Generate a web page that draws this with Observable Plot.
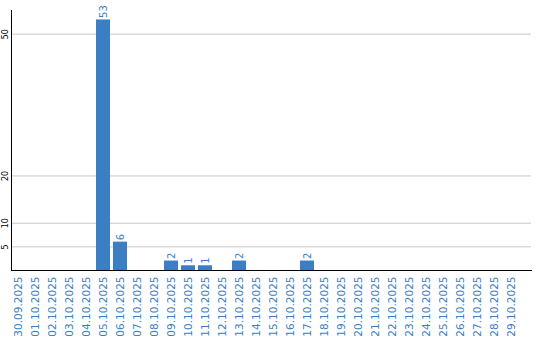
<!DOCTYPE html>
<html>
<head>
<meta charset="utf-8">
<script src="https://cdn.jsdelivr.net/npm/d3@7"></script>
<script src="https://cdn.jsdelivr.net/npm/@observablehq/plot@0.6"></script>
<style>
  body { margin: 0; background: #fff; }
  #chart svg { display: block; }
</style>
</head>
<body>
<div id="chart"></div>
<script>
const dates = ["30.09.2025","01.10.2025","02.10.2025","03.10.2025","04.10.2025","05.10.2025","06.10.2025","07.10.2025","08.10.2025","09.10.2025","10.10.2025","11.10.2025","12.10.2025","13.10.2025","14.10.2025","15.10.2025","16.10.2025","17.10.2025","18.10.2025","19.10.2025","20.10.2025","21.10.2025","22.10.2025","23.10.2025","24.10.2025","25.10.2025","26.10.2025","27.10.2025","28.10.2025","29.10.2025"];
const counts = [0,0,0,0,0,53,6,0,0,2,1,1,0,2,0,0,0,2,0,0,0,0,0,0,0,0,0,0,0,0];
const yTicks = [5,10,20,50];

const data = dates.map((d, i) => ({date: d, value: counts[i]}));
const blue = "#3b7ec3";

const chart = Plot.plot({
  width: 540,
  height: 340,
  marginTop: 10,
  marginLeft: 11,
  marginRight: 9,
  marginBottom: 70,
  style: {fontFamily: "DejaVu Sans", fontSize: "10px", background: "#fff"},
  x: {domain: dates, paddingInner: 3/17, paddingOuter: 0.382, align: 0, round: false},
  y: {domain: [0, 55]},
  marks: [
    Plot.ruleY(yTicks, {stroke: "#c8c8c8", strokeWidth: 1}),
    Plot.barY(data, {x: "date", y: "value", fill: blue}),
    Plot.text(data.filter(d => d.value > 0), {
      x: "date", y: "value", text: d => String(d.value),
      rotate: -90, textAnchor: "start", dy: -2,
      fill: blue, fontSize: 10
    }),
    Plot.axisX({tickRotate: -90, tickSize: 0, tickPadding: 6, color: blue, fontSize: 10.5, label: null}),
    Plot.axisY({ticks: yTicks, tickSize: 0, tickRotate: -90, tickPadding: 4, fontSize: 8, color: "#000", label: null}),
    Plot.frame({anchor: "left", stroke: "#000"}),
    Plot.frame({anchor: "bottom", stroke: "#000"})
  ]
});
document.getElementById("chart").appendChild(chart);
</script>
</body>
</html>
